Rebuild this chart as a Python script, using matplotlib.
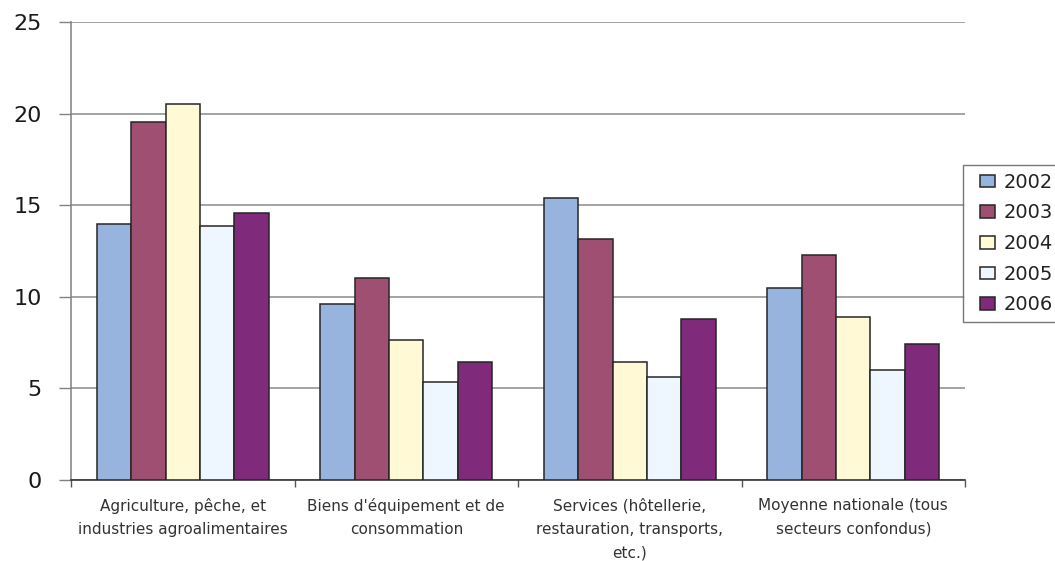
import matplotlib
matplotlib.use("Agg")
import matplotlib.pyplot as plt
from matplotlib.legend_handler import HandlerPatch
from matplotlib.patches import Rectangle
import numpy as np

categories = [
    "Agriculture, pêche, et\nindustries agroalimentaires",
    "Biens d'équipement et de\nconsommation",
    "Services (hôtellerie,\nrestauration, transports,\netc.)",
    "Moyenne nationale (tous\nsecteurs confondus)",
]
years = ["2002", "2003", "2004", "2005", "2006"]
v2002 = [14.0, 9.6, 15.4, 10.5]
v2003 = [19.55, 11.0, 13.15, 12.3]
v2004 = [20.5, 7.65, 6.45, 8.9]
v2005 = [13.85, 5.35, 5.6, 6.0]
v2006 = [14.55, 6.45, 8.8, 7.4]
y_ticks = [0, 5, 10, 15, 20, 25]

series = [v2002, v2003, v2004, v2005, v2006]
colors = ["#96B4DE", "#9E4F72", "#FFF9D5", "#EEF6FF", "#7F2A7B"]


def right_box(legend, orig_handle, xdescent, ydescent, width, height, fontsize):
    # square sits at the right end of the handle slot, leaving room on its left
    w = 0.77 * fontsize
    return Rectangle((-xdescent + width - w, -ydescent), w, height)


fig = plt.figure(figsize=(10.55, 5.61), dpi=100)
ax = fig.add_axes([0.0673, 0.1444, 0.9147 - 0.0673, 0.9608 - 0.1444])

x = np.arange(len(categories))
width = 0.1536
handles = []
for i, (vals, col, yr) in enumerate(zip(series, colors, years)):
    bars = ax.bar(x + (i - 2) * width, vals, width, color=col, edgecolor="#262626",
                  linewidth=1.1, label=yr, zorder=3)
    handles.append(bars.patches[0])

ax.set_xlim(-0.5, len(categories) - 0.5)
ax.set_ylim(0, 25)
ax.set_yticks(y_ticks)
ax.set_yticklabels([str(t) for t in y_ticks], fontsize=16, color="#1a1a1a",
                   family="DejaVu Sans")
ax.yaxis.grid(True, color="#8a8a8a", linewidth=1.1, zorder=0)
ax.set_axisbelow(True)
ax.tick_params(axis="y", length=9, width=1, color="#808080", pad=12)

ax.set_xticks(x)
ax.set_xticklabels(categories, fontsize=11, color="#333333",
                   family="DejaVu Sans", linespacing=1.7)
ax.set_xticks(np.arange(-0.5, len(categories)), minor=True)
ax.tick_params(axis="x", which="major", length=0, pad=13)
ax.tick_params(axis="x", which="minor", length=5, width=1, color="#555555")

for side in ("top", "right"):
    ax.spines[side].set_visible(False)
ax.spines["left"].set_color("#808080")
ax.spines["left"].set_linewidth(1.1)
ax.spines["bottom"].set_color("#333333")
ax.spines["bottom"].set_linewidth(1.2)

leg = ax.legend(handles, years, loc="upper left",
                bbox_to_anchor=(963 / 1055, 1 - 165 / 561),
                bbox_transform=fig.transFigure, frameon=True, fancybox=False,
                prop={"family": "DejaVu Sans", "size": 14}, borderaxespad=0,
                borderpad=0.4, handlelength=1.25, handleheight=0.62,
                handletextpad=0.42, labelspacing=0.6,
                handler_map={Rectangle: HandlerPatch(patch_func=right_box)})
leg.get_frame().set_edgecolor("#555555")
leg.get_frame().set_linewidth(1.0)
for t in leg.get_texts():
    t.set_color("#222222")

fig.savefig("out.png", dpi=100)
